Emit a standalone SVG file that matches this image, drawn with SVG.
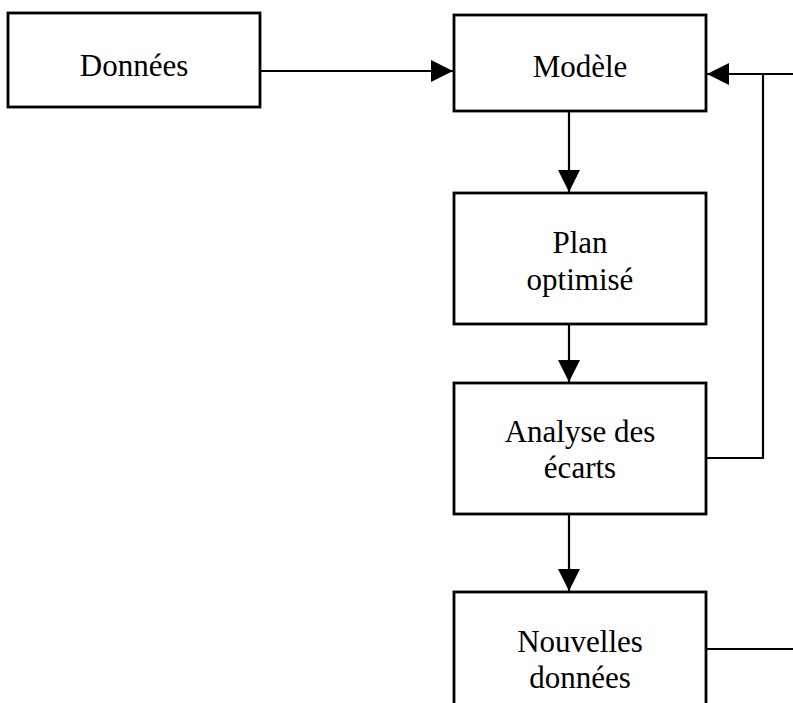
<svg xmlns="http://www.w3.org/2000/svg" width="793" height="703" viewBox="0 0 793 703">
<style>
.box{fill:#fff;stroke:#000;stroke-width:2.8}
.lbl{font-family:"Liberation Serif","Times New Roman",serif;font-size:31px;fill:#000;text-anchor:middle}
.con{fill:none;stroke:#000;stroke-width:2.2}
</style>
<defs>
<marker id="ah" markerUnits="userSpaceOnUse" markerWidth="22" markerHeight="22" viewBox="0 0 20 20" refX="20" refY="10" orient="auto">
<path d="M0,0 L20,10 L0,20 Z" fill="#000"/>
</marker>
</defs>
<rect width="793" height="703" fill="#fff"/>
<g id="connectors">
<line class="con" x1="260" y1="71" x2="453" y2="71" marker-end="url(#ah)"/>
<line class="con" x1="569" y1="111" x2="569" y2="192" marker-end="url(#ah)"/>
<line class="con" x1="569" y1="324" x2="569" y2="382" marker-end="url(#ah)"/>
<line class="con" x1="569" y1="514" x2="569" y2="591" marker-end="url(#ah)"/>
<line class="con" x1="793" y1="74" x2="707" y2="74" marker-end="url(#ah)"/>
<polyline class="con" points="706,458 763,458 763,74"/>
<line class="con" x1="706" y1="649" x2="793" y2="649"/>
</g>
<g id="donnees">
<rect class="box" x="8" y="13" width="252" height="94"/>
<text class="lbl" x="134" y="76">Données</text>
</g>
<g id="modele">
<rect class="box" x="454" y="15" width="252" height="96"/>
<text class="lbl" x="580" y="77">Modèle</text>
</g>
<g id="plan">
<rect class="box" x="454" y="193" width="252" height="131"/>
<text class="lbl" x="580" y="253">Plan</text>
<text class="lbl" x="580" y="290">optimisé</text>
</g>
<g id="analyse">
<rect class="box" x="454" y="383" width="252" height="131"/>
<text class="lbl" x="580" y="442">Analyse des</text>
<text class="lbl" x="580" y="478">écarts</text>
</g>
<g id="nouvelles">
<rect class="box" x="454" y="592" width="252" height="140"/>
<text class="lbl" x="580" y="652">Nouvelles</text>
<text class="lbl" x="580" y="688">données</text>
</g>
</svg>
